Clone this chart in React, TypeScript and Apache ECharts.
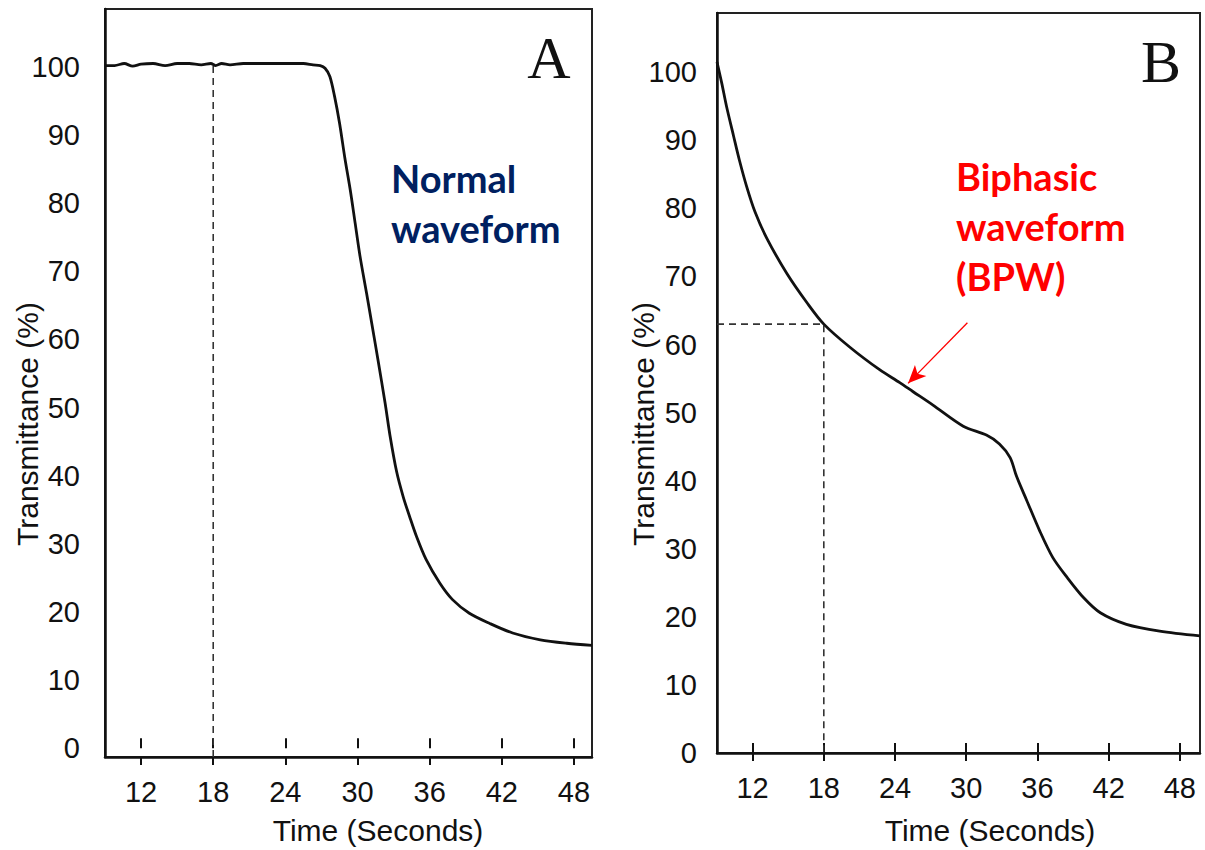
import React, { useEffect, useRef } from "react";
import * as echarts from "echarts";

// Panel A – normal waveform (time in s, transmittance in %)
const normalTime = [9, 9.8, 10.6, 11.3, 12, 13, 14, 15, 16, 17, 17.8, 18.2, 18.7, 19.4, 20.5, 22, 24, 25.5, 26.3, 26.9, 27.3, 27.7, 28.1, 28.5, 28.95, 29.4, 29.8, 30.2, 30.75, 31.2, 31.7, 32.3, 32.7, 33.25, 33.8, 34.35, 34.9, 35.7, 36.85, 37.9, 39.3, 41, 42.9, 45.2, 47.4, 49.5];
const normalValue = [100.2, 100.2, 100.5, 100.1, 100.4, 100.5, 100.2, 100.5, 100.5, 100.3, 100.5, 100.2, 100.5, 100.3, 100.5, 100.5, 100.5, 100.5, 100.3, 100.2, 99.8, 98.6, 95.6, 91.8, 86.6, 81.9, 77.1, 72.3, 66.8, 62.2, 57.0, 50.6, 45.9, 40.6, 36.9, 33.9, 31.1, 27.7, 24.2, 21.8, 19.8, 18.3, 16.9, 15.9, 15.4, 15.1];

// Panel B – biphasic waveform
const biphasicTime = [9, 9.4, 9.8, 10.4, 10.9, 11.5, 12.2, 13.2, 14.9, 16.6, 18, 20.2, 22.7, 24.4, 25.5, 27.2, 29.75, 31.7, 32.8, 33.7, 34.25, 35.1, 36.2, 37.3, 38.5, 39.9, 41.3, 43.5, 46.3, 49.7];
const biphasicValue = [101.5, 98.4, 95.0, 90.6, 87.0, 83.2, 79.5, 75.6, 70.4, 66.1, 63.0, 59.6, 56.3, 54.4, 53.1, 51.1, 48.0, 46.7, 45.4, 43.4, 40.6, 37.1, 32.6, 28.7, 25.8, 22.8, 20.6, 18.9, 17.9, 17.2];

// Reference guides
const guideTime = 18;
const guideA = 100.3;
const guideB = 63.0;
const arrowFrom = [30.1, 63.2];
const arrowTo = [25.1, 54.3];

const xTicks = [12, 18, 24, 30, 36, 42, 48];
const yTicks = [0, 10, 20, 30, 40, 50, 60, 70, 80, 90, 100];

const xRange = [9, 49.5];
const xRangeB = [9, 49.7];
const yRangeA = [-1.3, 108.5];
const yRangeB = [0, 108.7];

const FONT = '"Liberation Sans", Arial, sans-serif';

function zip(a: number[], b: number[]) {
  return a.map((v, i) => [v, b[i]]);
}

export default function App() {
  const ref = useRef<HTMLDivElement>(null);

  useEffect(() => {
    if (!ref.current) return;
    const chart = echarts.init(ref.current, undefined, { renderer: "svg" });

    const mainX = (grid: number, range: number[]) => ({
      type: "value",
      gridIndex: grid,
      min: range[0],
      max: range[1],
      position: "bottom",
      axisLine: { show: true, onZero: false, lineStyle: { color: "#111", width: 2.5 } },
      axisTick: { show: true, inside: false, length: 8, customValues: xTicks, lineStyle: { color: "#111", width: 2 } },
      axisLabel: { show: true, customValues: xTicks, margin: 20, fontSize: 29, color: "#111", fontFamily: FONT },
      splitLine: { show: false },
    });
    const innerX = (grid: number, range: number[]) => ({
      type: "value",
      gridIndex: grid,
      min: range[0],
      max: range[1],
      position: "bottom",
      axisLine: { show: false },
      axisTick: { show: true, inside: true, length: 10, customValues: xTicks, lineStyle: { color: "#111", width: 2 } },
      axisLabel: { show: false },
      splitLine: { show: false },
    });
    const yAx = (grid: number, range: number[], margin: number) => ({
      type: "value",
      gridIndex: grid,
      min: range[0],
      max: range[1],
      axisLine: { show: true, onZero: false, lineStyle: { color: "#111", width: 2.5 } },
      axisTick: { show: false },
      axisLabel: { show: true, customValues: yTicks, margin, fontSize: 29, color: "#111", fontFamily: FONT },
      splitLine: { show: false },
    });

    const curveStyle = { color: "#111", width: 2.8 };
    const dashStyle = { color: "#333", width: 1.6, type: [7, 5] };

    chart.setOption({
      animation: false,
      backgroundColor: "#fff",
      grid: [
        { left: 105, top: 9, width: 487, height: 748, show: true, borderColor: "#222", borderWidth: 2 },
        { left: 717, top: 13, width: 483, height: 740, show: true, borderColor: "#222", borderWidth: 2 },
      ],
      xAxis: [mainX(0, xRange), innerX(0, xRange), mainX(1, xRangeB), innerX(1, xRangeB)],
      yAxis: [yAx(0, yRangeA, 25), yAx(1, yRangeB, 20)],
      series: [
        {
          type: "line",
          xAxisIndex: 0,
          yAxisIndex: 0,
          data: [[guideTime, yRangeA[0]], [guideTime, guideA]],
          showSymbol: false,
          lineStyle: dashStyle,
          silent: true,
        },
        {
          type: "line",
          name: "Normal waveform",
          xAxisIndex: 0,
          yAxisIndex: 0,
          data: zip(normalTime, normalValue),
          showSymbol: false,
          smooth: 0.3,
          lineStyle: curveStyle,
        },
        {
          type: "line",
          xAxisIndex: 2,
          yAxisIndex: 1,
          data: [[xRangeB[0], guideB], [guideTime, guideB], [guideTime, yRangeB[0]]],
          showSymbol: false,
          lineStyle: dashStyle,
          silent: true,
        },
        {
          type: "line",
          name: "Biphasic waveform",
          xAxisIndex: 2,
          yAxisIndex: 1,
          data: zip(biphasicTime, biphasicValue),
          showSymbol: false,
          smooth: 0.3,
          lineStyle: curveStyle,
          markLine: {
            silent: true,
            symbol: ["none", "arrow"],
            symbolSize: [12, 18],
            label: { show: false },
            lineStyle: { color: "#ff0000", width: 1.3, type: "solid" },
            data: [[{ coord: arrowFrom }, { coord: arrowTo }]],
          },
        },
      ],
      graphic: [
        { type: "text", x: 549, y: 58, style: { text: "A", font: '60px "Liberation Serif", "Times New Roman", serif', fill: "#111", align: "center", verticalAlign: "middle" } },
        { type: "text", x: 1161, y: 62, style: { text: "B", font: '60px "Liberation Serif", "Times New Roman", serif', fill: "#111", align: "center", verticalAlign: "middle" } },
        { type: "text", x: 391, y: 153, style: { text: "Normal\nwaveform", font: 'bold 38px Lato, "Noto Sans", sans-serif', lineHeight: 50, fill: "#002060", align: "left", verticalAlign: "top" } },
        { type: "text", x: 956, y: 151, style: { text: "Biphasic\nwaveform\n(BPW)", font: 'bold 38px Lato, "Noto Sans", sans-serif', lineHeight: 50, fill: "#ff0000", align: "left", verticalAlign: "top" } },
        { type: "text", x: 378, y: 830, style: { text: "Time (Seconds)", font: `30px ${FONT}`, fill: "#111", align: "center", verticalAlign: "middle" } },
        { type: "text", x: 990, y: 830, style: { text: "Time (Seconds)", font: `30px ${FONT}`, fill: "#111", align: "center", verticalAlign: "middle" } },
        { type: "text", x: 27, y: 424, rotation: Math.PI / 2, style: { text: "Transmittance (%)", font: `30px ${FONT}`, fill: "#111", align: "center", verticalAlign: "middle" } },
        { type: "text", x: 643, y: 424, rotation: Math.PI / 2, style: { text: "Transmittance (%)", font: `30px ${FONT}`, fill: "#111", align: "center", verticalAlign: "middle" } },
      ],
    });

    return () => chart.dispose();
  }, []);

  return (
    <div
      ref={ref}
      style={{ position: "fixed", left: 0, top: 0, width: 1205, height: 850, background: "#fff" }}
    />
  );
}
